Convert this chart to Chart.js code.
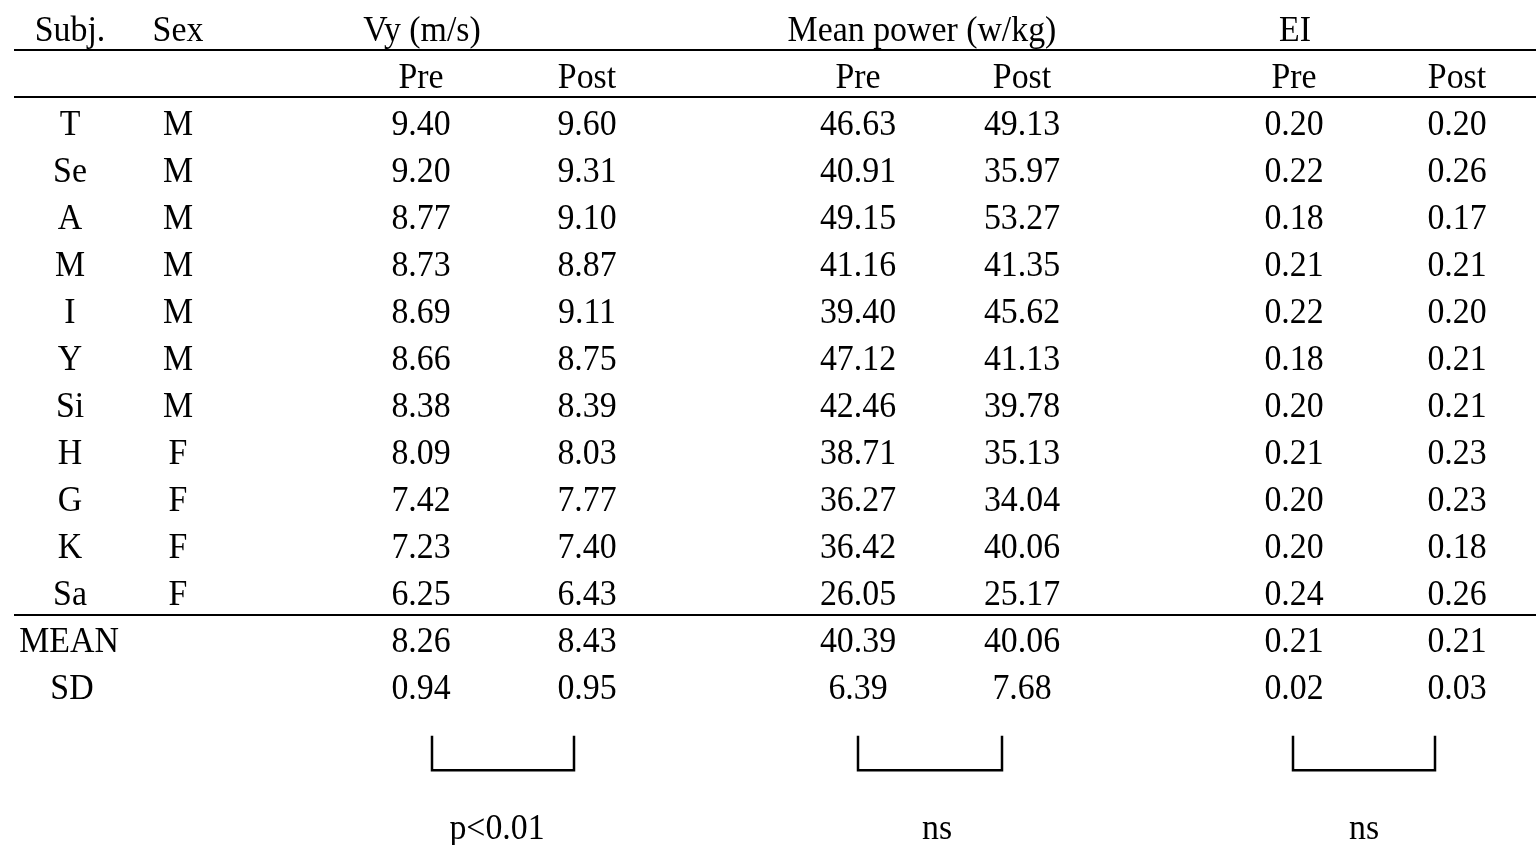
<!DOCTYPE html>
<html>
<head>
<meta charset="utf-8">
<script src="https://cdn.jsdelivr.net/npm/chart.js@4.4.1/dist/chart.umd.min.js"></script>
<style>
  html, body { margin: 0; padding: 0; background: #fff; }
  canvas { display: block; }
</style>
</head>
<body>
<canvas id="tbl" width="1536" height="845"></canvas>
<script>
// table values
const subjects = ['T', 'Se', 'A', 'M', 'I', 'Y', 'Si', 'H', 'G', 'K', 'Sa'];
const sex = ['M', 'M', 'M', 'M', 'M', 'M', 'M', 'F', 'F', 'F', 'F'];
const vyPre = [9.40, 9.20, 8.77, 8.73, 8.69, 8.66, 8.38, 8.09, 7.42, 7.23, 6.25];
const vyPost = [9.60, 9.31, 9.10, 8.87, 9.11, 8.75, 8.39, 8.03, 7.77, 7.40, 6.43];
const mpPre = [46.63, 40.91, 49.15, 41.16, 39.40, 47.12, 42.46, 38.71, 36.27, 36.42, 26.05];
const mpPost = [49.13, 35.97, 53.27, 41.35, 45.62, 41.13, 39.78, 35.13, 34.04, 40.06, 25.17];
const eiPre = [0.20, 0.22, 0.18, 0.21, 0.22, 0.18, 0.20, 0.21, 0.20, 0.20, 0.24];
const eiPost = [0.20, 0.26, 0.17, 0.21, 0.20, 0.21, 0.21, 0.23, 0.23, 0.18, 0.26];
const meanRow = [8.26, 8.43, 40.39, 40.06, 0.21, 0.21];
const sdRow = [0.94, 0.95, 6.39, 7.68, 0.02, 0.03];
const groupTitles = ['Vy (m/s)', 'Mean power (w/kg)', 'EI'];
const phaseTitles = ['Pre', 'Post'];
const significance = ['p<0.01', 'ns', 'ns'];

// layout (x in px, y in row units)
const colX = [70, 178, 421, 587, 858, 1022, 1294, 1457];
const groupX = [422, 922, 1295];
const bracketX = [[432, 574], [858, 1002], [1293, 1435]];
const sigX = [497, 937, 1364];
const ruleRows = [0.47, 1.47, 12.49];
const FONT = '36px "Liberation Serif", "Times New Roman", serif';
const SQUEEZE = 0.94;

const valueCols = [vyPre, vyPost, mpPre, mpPost, eiPre, eiPost];

// text cells: {x, row, text}
const cells = [];
cells.push({ x: 70, row: 0, text: 'Subj.' });
cells.push({ x: colX[1], row: 0, text: 'Sex' });
groupTitles.forEach((t, g) => cells.push({ x: groupX[g], row: 0, text: t }));
for (let g = 0; g < 3; g++) {
  phaseTitles.forEach((p, k) => cells.push({ x: colX[2 + g * 2 + k], row: 1, text: p }));
}
subjects.forEach((s, i) => {
  cells.push({ x: colX[0], row: i + 2, text: s });
  cells.push({ x: colX[1], row: i + 2, text: sex[i] });
  valueCols.forEach((col, c) => cells.push({ x: colX[2 + c], row: i + 2, text: col[i].toFixed(2) }));
});
const meanR = subjects.length + 2;
cells.push({ x: 69, row: meanR, text: 'MEAN' });
meanRow.forEach((v, c) => cells.push({ x: colX[2 + c], row: meanR, text: v.toFixed(2) }));
cells.push({ x: 72, row: meanR + 1, text: 'SD' });
sdRow.forEach((v, c) => cells.push({ x: colX[2 + c], row: meanR + 1, text: v.toFixed(2) }));
significance.forEach((t, g) => cells.push({ x: sigX[g], row: 16.98, text: t }));

// horizontal rules and brackets as line datasets
const lineSets = [];
ruleRows.forEach(r => lineSets.push({
  data: [{ x: 14, y: r }, { x: 1536, y: r }],
  showLine: true, borderColor: '#000', borderWidth: 2, pointRadius: 0
}));
bracketX.forEach(([a, b]) => lineSets.push({
  data: [{ x: a, y: 15.06 }, { x: a, y: 15.79 }, { x: b, y: 15.79 }, { x: b, y: 15.06 }],
  showLine: true, borderColor: '#000', borderWidth: 2.5, pointRadius: 0
}));

const cellText = {
  id: 'cellText',
  afterDatasetsDraw(chart) {
    const { ctx, scales: { x, y } } = chart;
    ctx.font = FONT;
    ctx.fillStyle = '#000';
    ctx.textAlign = 'center';
    ctx.textBaseline = 'alphabetic';
    cells.forEach(c => {
      ctx.save();
      ctx.translate(x.getPixelForValue(c.x), y.getPixelForValue(c.row) + 13);
      ctx.scale(SQUEEZE, 1);
      ctx.fillText(c.text, 0, 0);
      ctx.restore();
    });
  }
};

new Chart(document.getElementById('tbl'), {
  type: 'scatter',
  data: { datasets: lineSets },
  options: {
    responsive: false,
    animation: false,
    events: [],
    layout: { padding: 0 },
    plugins: { legend: { display: false }, tooltip: { enabled: false } },
    scales: {
      x: { type: 'linear', display: false, min: 0, max: 1536 },
      y: { type: 'linear', display: false, reverse: true, min: -28 / 47, max: 817 / 47 }
    }
  },
  plugins: [cellText]
});
</script>
</body>
</html>
